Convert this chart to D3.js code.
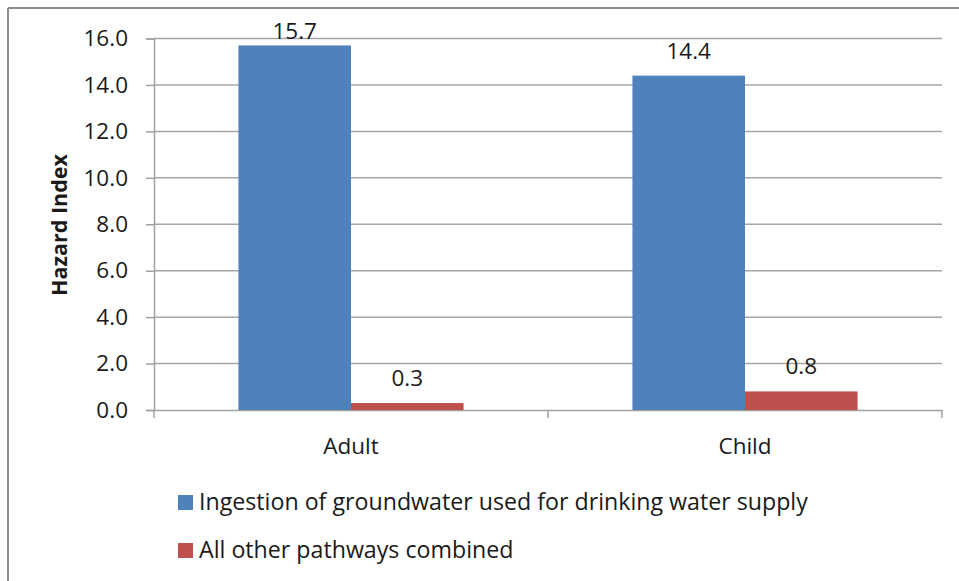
<!DOCTYPE html>
<html>
<head>
<meta charset="utf-8">
<script src="https://cdn.jsdelivr.net/npm/d3@7"></script>
<style>
  html, body { margin: 0; padding: 0; background: #fff; }
  svg { display: block; }
  text { font-family: "Open Sans", "Liberation Sans", sans-serif; fill: #1a1a1a; }
</style>
</head>
<body>
<svg id="chart" width="959" height="581"></svg>
<script>
const categories = ["Adult", "Child"];
const seriesNames = ["Ingestion of groundwater used for drinking water supply", "All other pathways combined"];
const ingestionValues = [15.7, 14.4];
const otherValues = [0.3, 0.8];
const yTicks = [0, 2, 4, 6, 8, 10, 12, 14, 16];
const colors = ["#4f81bd", "#c0504d"];
const yTitle = "Hazard Index";

const svg = d3.select("#chart");
const W = 959, H = 581;
const plot = { left: 154, right: 942, top: 38.5, bottom: 410 };
const FS = 22.5;

// outer frame (top and left edges visible)
svg.append("line").attr("x1", 8).attr("x2", W).attr("y1", 8).attr("y2", 8)
  .attr("stroke", "#8c8c8c").attr("stroke-width", 2);
svg.append("line").attr("x1", 8).attr("x2", 8).attr("y1", 8).attr("y2", H)
  .attr("stroke", "#8c8c8c").attr("stroke-width", 2);

const y = d3.scaleLinear().domain([0, 16]).range([plot.bottom, plot.top]);
const x0 = d3.scaleBand().domain(categories).range([plot.left, plot.right]).paddingInner(0).paddingOuter(0);
const groupW = x0.bandwidth() * 2 / 3.5;
const x1 = d3.scaleBand().domain(seriesNames).range([0, groupW]).padding(0);

// gridlines
svg.append("g").selectAll("line").data(yTicks.filter(d => d > 0)).join("line")
  .attr("x1", plot.left).attr("x2", plot.right)
  .attr("y1", d => y(d)).attr("y2", d => y(d))
  .attr("stroke", "#a6a6a6").attr("stroke-width", 1.5);

// y axis
const yAxis = d3.axisLeft(y).tickValues(yTicks).tickFormat(d3.format(".1f")).tickSize(8).tickPadding(18);
const gy = svg.append("g").attr("transform", `translate(${plot.left},0)`).call(yAxis);
gy.select(".domain").attr("stroke", "#a0a0a0").attr("stroke-width", 1.5);
gy.selectAll(".tick line").attr("stroke", "#a0a0a0").attr("stroke-width", 1.5);
gy.selectAll(".tick text").attr("font-size", FS).attr("fill", "#1a1a1a")
  .style("font-family", '"Open Sans", sans-serif');

// x axis
const xAxis = d3.axisBottom(x0).tickSize(0).tickPadding(28);
const gx = svg.append("g").attr("transform", `translate(0,${plot.bottom})`).call(xAxis);
gx.select(".domain").attr("stroke", "#a0a0a0").attr("stroke-width", 1.5);
gx.selectAll(".tick text").attr("font-size", FS).attr("fill", "#1a1a1a")
  .style("font-family", '"Open Sans", sans-serif');
// category boundary ticks
const bounds = [plot.left].concat(categories.map(c => x0(c) + x0.bandwidth()));
svg.append("g").selectAll("line").data(bounds).join("line")
  .attr("x1", d => d).attr("x2", d => d)
  .attr("y1", plot.bottom).attr("y2", plot.bottom + 8)
  .attr("stroke", "#a0a0a0").attr("stroke-width", 1.5);

// bars
const rows = categories.map((c, i) => ({ cat: c, vals: [ingestionValues[i], otherValues[i]] }));
const groups = svg.append("g").selectAll("g").data(rows).join("g")
  .attr("transform", d => `translate(${x0(d.cat) + (x0.bandwidth() - groupW) / 2},0)`);
groups.selectAll("rect").data(d => d.vals.map((v, j) => ({ v, s: seriesNames[j], j }))).join("rect")
  .attr("x", d => x1(d.s)).attr("width", x1.bandwidth())
  .attr("y", d => y(d.v)).attr("height", d => y(0) - y(d.v))
  .attr("fill", d => colors[d.j]);
groups.selectAll("text").data(d => d.vals.map((v, j) => ({ v, s: seriesNames[j], j }))).join("text")
  .attr("x", d => x1(d.s) + x1.bandwidth() / 2)
  .attr("y", d => Math.max(y(d.v) - 17, 39))
  .attr("text-anchor", "middle").attr("font-size", FS)
  .text(d => d3.format(".1f")(d.v));

// y title
svg.append("text").attr("transform", `translate(67,225) rotate(-90)`)
  .attr("text-anchor", "middle").attr("font-size", 21.5).attr("font-weight", "bold")
  .text(yTitle);

// legend
const lg = svg.append("g").selectAll("g").data(seriesNames).join("g")
  .attr("transform", (d, i) => `translate(178,${495 + i * 48})`);
lg.append("rect").attr("width", 15).attr("height", 15).attr("fill", (d, i) => colors[i]);
lg.append("text").attr("x", 21).attr("y", 15).attr("font-size", 23.2).text(d => d);
</script>
</body>
</html>
